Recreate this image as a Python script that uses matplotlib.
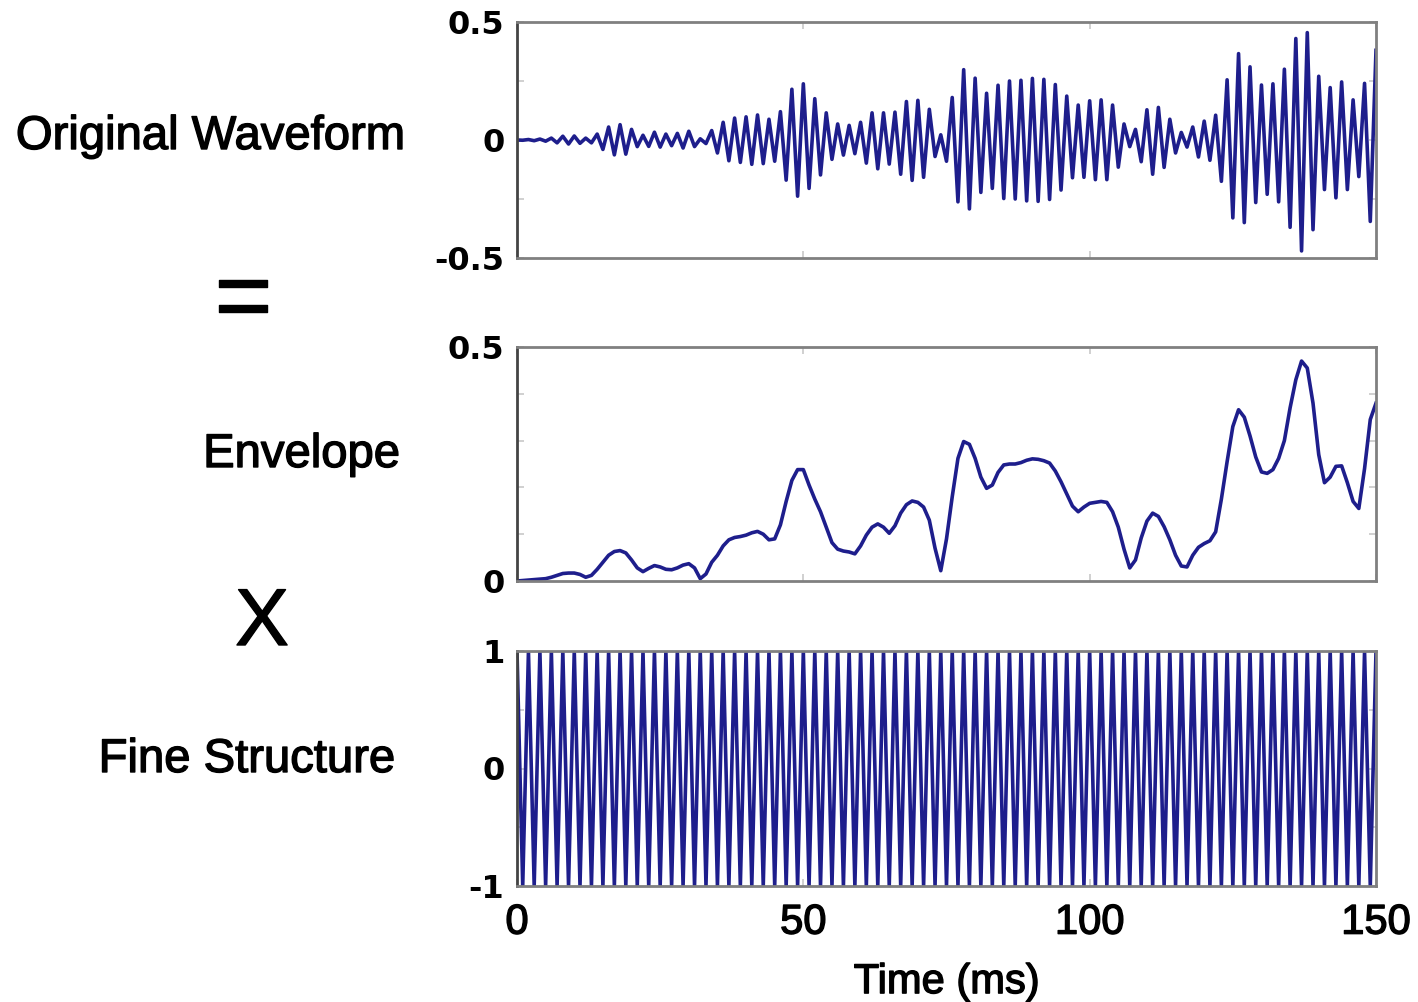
import numpy as np
import matplotlib

matplotlib.use("Agg")
import matplotlib.pyplot as plt  # noqa: E402
import matplotlib.patheffects as pe  # noqa: E402

# Envelope, one value per millisecond (0..150 ms).
TIME_MS = list(range(151))
ENVELOPE = [
    0.000, 0.001, 0.002, 0.003, 0.004, 0.005, 0.008, 0.012, 0.016, 0.017,
    0.017, 0.014, 0.008, 0.012, 0.025, 0.040, 0.055, 0.063, 0.065, 0.060,
    0.045, 0.028, 0.020, 0.027, 0.033, 0.030, 0.025, 0.024, 0.028, 0.034,
    0.037, 0.028, 0.005, 0.015, 0.040, 0.055, 0.075, 0.088, 0.093, 0.095,
    0.098, 0.103, 0.106, 0.100, 0.088, 0.090, 0.120, 0.170, 0.215, 0.238,
    0.238, 0.205, 0.175, 0.148, 0.115, 0.082, 0.068, 0.064, 0.062, 0.058,
    0.075, 0.098, 0.115, 0.122, 0.115, 0.102, 0.118, 0.145, 0.163, 0.171,
    0.168, 0.158, 0.130, 0.070, 0.022, 0.090, 0.180, 0.262, 0.298, 0.292,
    0.262, 0.222, 0.198, 0.205, 0.232, 0.248, 0.250, 0.250, 0.253, 0.258,
    0.261, 0.260, 0.257, 0.252, 0.235, 0.212, 0.186, 0.160, 0.148, 0.158,
    0.166, 0.168, 0.170, 0.168, 0.148, 0.115, 0.068, 0.028, 0.045, 0.092,
    0.128, 0.145, 0.138, 0.116, 0.088, 0.055, 0.032, 0.030, 0.055, 0.072,
    0.080, 0.086, 0.105, 0.175, 0.255, 0.330, 0.366, 0.350, 0.310, 0.265,
    0.233, 0.230, 0.238, 0.262, 0.300, 0.370, 0.430, 0.470, 0.455, 0.380,
    0.270, 0.210, 0.222, 0.245, 0.246, 0.210, 0.170, 0.155, 0.240, 0.345,
    0.380,
]
# Fine structure: carrier peaks alternate +1 / -1 every millisecond (~2 ms period).
FINE_STRUCTURE = [1 if k % 2 == 0 else -1 for k in TIME_MS]

X_TICKS = [0, 50, 100, 150]
WAVE_YTICKS = [-0.5, 0, 0.5]
ENV_YTICKS = [0, 0.5]
FINE_YTICKS = [-1, 0, 1]

LINE_COLOR = "#1e1e8c"
SPINE_COLOR = "#808080"
TEXT_FONT = ["Liberation Sans", "DejaVu Sans"]
TICK_FONT = {"family": "DejaVu Sans", "weight": "bold", "size": 23}
HEAVY = [pe.withStroke(linewidth=1.0, foreground="black")]

W, H = 1418, 1002


def px_axes(fig, left, top, right, bottom):
    return fig.add_axes([left / W, 1 - bottom / H, (right - left) / W, (bottom - top) / H])


def style_axes(ax, yticks, ylabels, minor_y):
    ax.set_xlim(0, 150)
    ax.set_xticks(X_TICKS)
    ax.set_yticks(yticks, ylabels, fontdict=TICK_FONT)
    ax.set_yticks(minor_y, minor=True)
    for side, spine in ax.spines.items():
        spine.set_color("#444444" if side == "left" else SPINE_COLOR)
        spine.set_linewidth(2.0)
    ax.tick_params(which="both", direction="in", top=True, right=True,
                   color="#c8c8c8", length=5, width=1.2, pad=9)
    ax.tick_params(axis="x", labelbottom=False)


fig = plt.figure(figsize=(W / 100, H / 100), dpi=100)

t = np.array(TIME_MS, dtype=float)
env = np.array(ENVELOPE)
fine = np.array(FINE_STRUCTURE, dtype=float)
wave = env * fine

ax1 = px_axes(fig, 517, 22, 1376, 258)
ax1.plot(t, wave, color=LINE_COLOR, lw=2.6)
ax1.set_ylim(-0.5, 0.5)
style_axes(ax1, WAVE_YTICKS, ["-0.5", "0", "0.5"], [-0.25, 0.25])

ax2 = px_axes(fig, 517, 347, 1376, 581)
ax2.plot(t, env, color=LINE_COLOR, lw=2.6)
ax2.set_ylim(0, 0.5)
style_axes(ax2, ENV_YTICKS, ["0", "0.5"], [0.1, 0.2, 0.3, 0.4])

ax3 = px_axes(fig, 517, 651, 1376, 886)
ax3.plot(t, fine, color=LINE_COLOR, lw=2.6)
ax3.set_ylim(-1, 1)
style_axes(ax3, FINE_YTICKS, ["-1", "0", "1"], [-0.5, 0.5])
ax3.tick_params(axis="x", labelbottom=True, pad=12)
for lab in ax3.get_xticklabels():
    lab.set_fontfamily(TEXT_FONT)
    lab.set_fontsize(30)
    lab.set_path_effects(HEAVY)
xlab = ax3.set_xlabel("Time (ms)", family=TEXT_FONT, fontsize=30, labelpad=14)
xlab.set_path_effects(HEAVY)

for x, y, label in [(405, 137, "Original Waveform"), (400, 455, "Envelope"),
                    (395, 760, "Fine Structure")]:
    fig.text(x / W, 1 - y / H, label, ha="right", va="center",
             family=TEXT_FONT, fontsize=34, path_effects=HEAVY)
fig.text(243 / W, 1 - 303 / H, "=", ha="center", va="center",
         family=TEXT_FONT, fontsize=72, path_effects=HEAVY)
fig.text(262 / W, 1 - 624 / H, "X", ha="center", va="center",
         family=TEXT_FONT, fontsize=58, path_effects=HEAVY)

fig.savefig("out.png", dpi=100)
